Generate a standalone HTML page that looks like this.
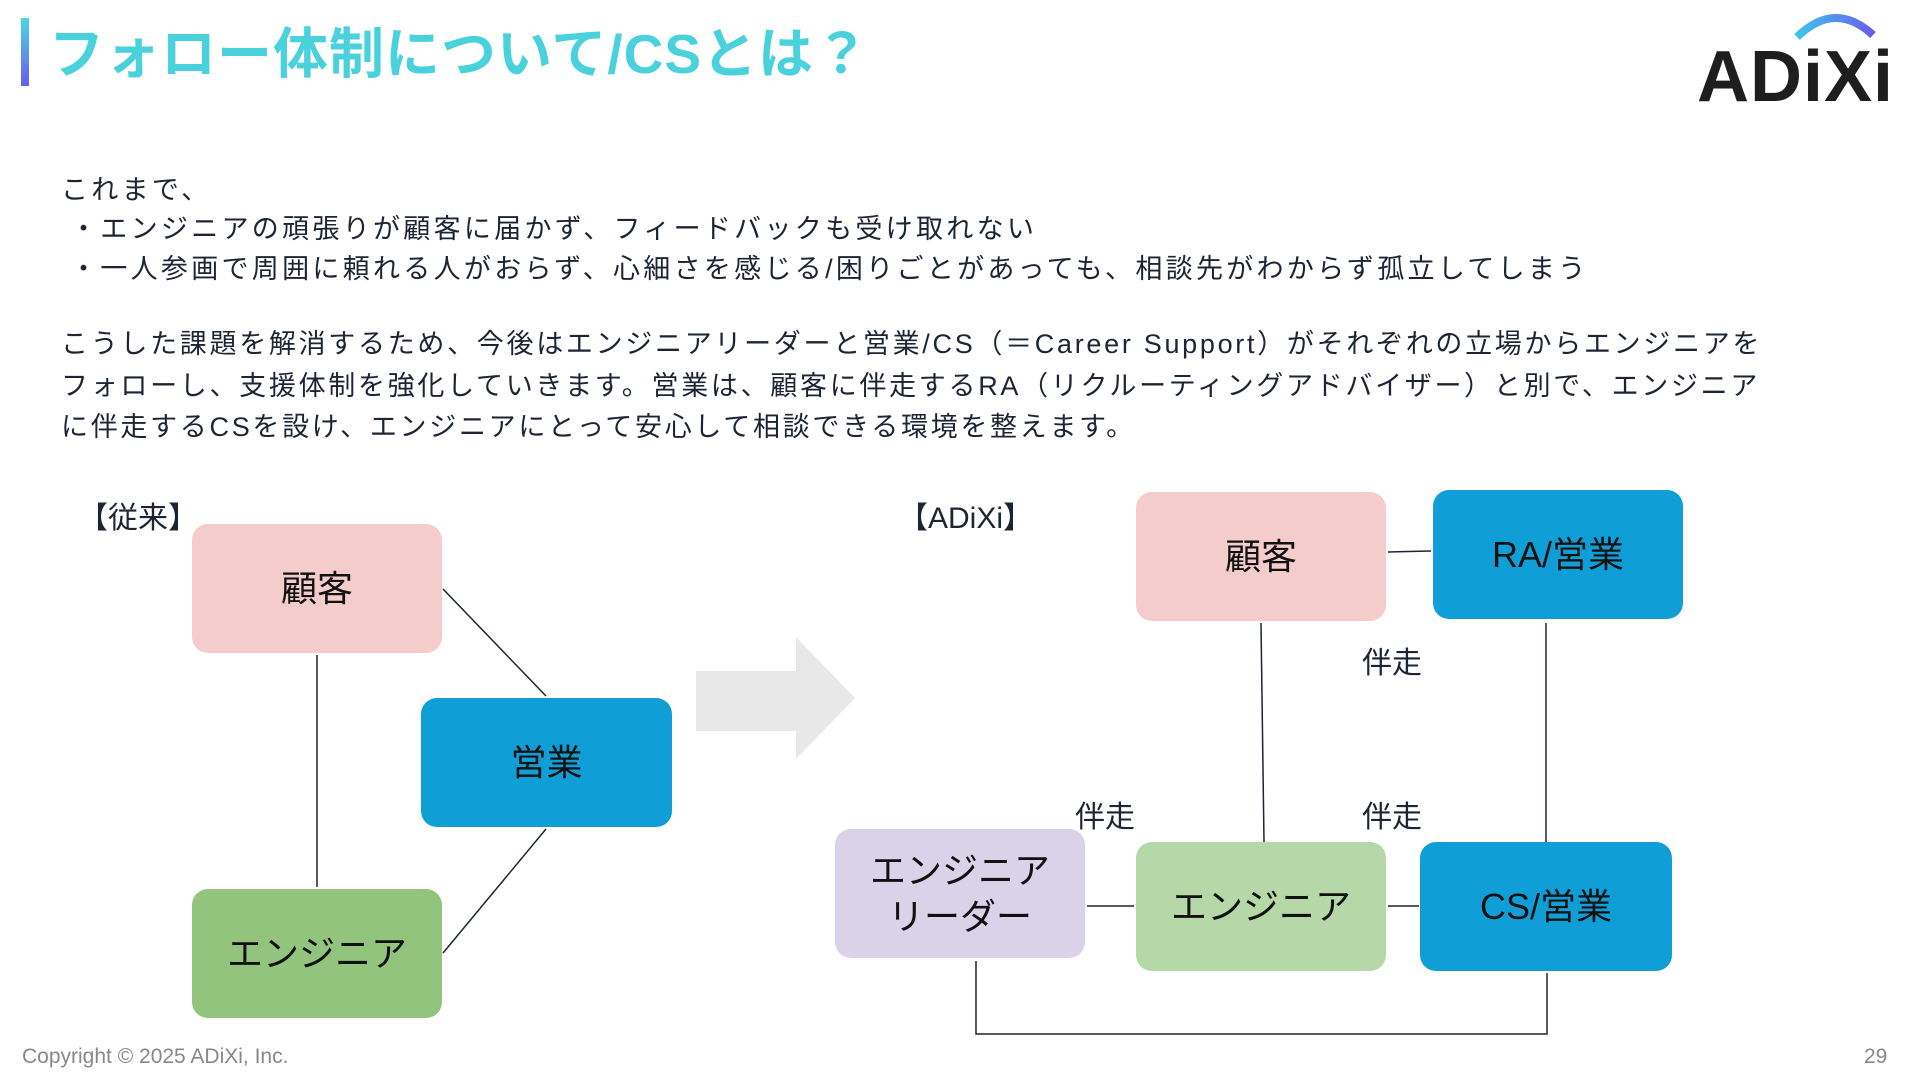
<!DOCTYPE html>
<html><head><meta charset="utf-8"><style>
*{margin:0;padding:0;box-sizing:border-box}
body{width:1920px;height:1080px;background:#fff;position:relative;overflow:hidden;font-family:"Liberation Sans","Noto Sans CJK JP",sans-serif;color:#1d2433}
.a{position:absolute;white-space:nowrap}
.bar{left:21px;top:18px;width:8px;height:68px;background:linear-gradient(#4dd6e0,#6a5cf0)}
.title{left:49px;top:18px;font-size:55px;font-weight:bold;color:#4ad2dc;line-height:72px;letter-spacing:1px}
.t{font-size:27px;letter-spacing:3.3px;line-height:34px;left:61px}
.box{position:absolute;border-radius:16px;display:flex;align-items:center;justify-content:center;text-align:center;font-size:36px;line-height:46px;color:#111}
.pink{background:#f4cccc}.blue{background:#0f9fd6}.green{background:#93c47d}.lg{background:#b6d7a8}.lav{background:#d9d2e9}
.lbl{font-size:30px}
</style></head><body>
<div class="a bar"></div>
<div class="a title">フォロー体制について/CSとは？</div>
<svg class="a" style="left:1685px;top:5px" width="215" height="105" viewBox="0 0 215 105">
<path d="M112 32 Q150 -5 188 30" stroke="url(#g)" stroke-width="8" fill="none"/>
<defs><linearGradient id="g"><stop offset="0" stop-color="#3fc6e6"/><stop offset="1" stop-color="#6a5cf0"/></linearGradient></defs>
<text x="12" y="96" font-family="Liberation Sans" font-weight="bold" font-size="72" fill="#1e1e1e" letter-spacing="1">ADiXi</text>
</svg>
<div class="a t" style="top:173px">これまで、</div>
<div class="a t" style="top:212px;left:70px">・エンジニアの頑張りが顧客に届かず、フィードバックも受け取れない</div>
<div class="a t" style="top:252px;left:70px">・一人参画で周囲に頼れる人がおらず、心細さを感じる/困りごとがあっても、相談先がわからず孤立してしまう</div>
<div class="a t" style="top:327px;letter-spacing:2.7px">こうした課題を解消するため、今後はエンジニアリーダーと営業/CS（＝Career Support）がそれぞれの立場からエンジニアを</div>
<div class="a t" style="top:369px;letter-spacing:2.7px">フォローし、支援体制を強化していきます。営業は、顧客に伴走するRA（リクルーティングアドバイザー）と別で、エンジニア</div>
<div class="a t" style="top:410px;letter-spacing:2.7px">に伴走するCSを設け、エンジニアにとって安心して相談できる環境を整えます。</div>
<div class="a lbl" style="left:78px;top:493px">【従来】</div>
<div class="a lbl" style="left:898px;top:493px">【ADiXi】</div>
<svg class="a" style="left:0;top:0" width="1920" height="1080">
<g stroke="#1d2433" stroke-width="1.5" fill="none">
<line x1="317" y1="655" x2="317" y2="887"/>
<line x1="443" y1="589" x2="546" y2="696"/>
<line x1="546" y1="829" x2="443" y2="953"/>
<line x1="1388" y1="552" x2="1431" y2="551"/>
<line x1="1261" y1="623" x2="1264" y2="842"/>
<line x1="1546" y1="623" x2="1546" y2="842"/>
<line x1="1087" y1="906" x2="1134" y2="906"/>
<line x1="1388" y1="906" x2="1419" y2="906"/>
<polyline points="976,961 976,1034 1547,1034 1547,973"/>
</g>
<polygon points="696,671 796,671 796,637 855,698 796,759 796,731 696,731" fill="#e8e8e8"/>
</svg>
<div class="box pink" style="left:192px;top:524px;width:250px;height:129px">顧客</div>
<div class="box blue" style="left:421px;top:698px;width:251px;height:129px">営業</div>
<div class="box green" style="left:192px;top:889px;width:250px;height:129px">エンジニア</div>
<div class="box pink" style="left:1136px;top:492px;width:250px;height:129px">顧客</div>
<div class="box blue" style="left:1433px;top:490px;width:250px;height:129px">RA/営業</div>
<div class="box lav" style="left:835px;top:829px;width:250px;height:129px">エンジニア<br>リーダー</div>
<div class="box lg" style="left:1136px;top:842px;width:250px;height:129px">エンジニア</div>
<div class="box blue" style="left:1420px;top:842px;width:252px;height:129px">CS/営業</div>
<div class="a" style="left:1362px;top:638px;font-size:30px">伴走</div>
<div class="a" style="left:1075px;top:792px;font-size:30px">伴走</div>
<div class="a" style="left:1362px;top:792px;font-size:30px">伴走</div>
<div class="a" style="left:22px;top:1045px;font-size:21px;color:#888">Copyright © 2025 ADiXi, Inc.</div>
<div class="a" style="left:1864px;top:1045px;font-size:21px;color:#888">29</div>
</body></html>
